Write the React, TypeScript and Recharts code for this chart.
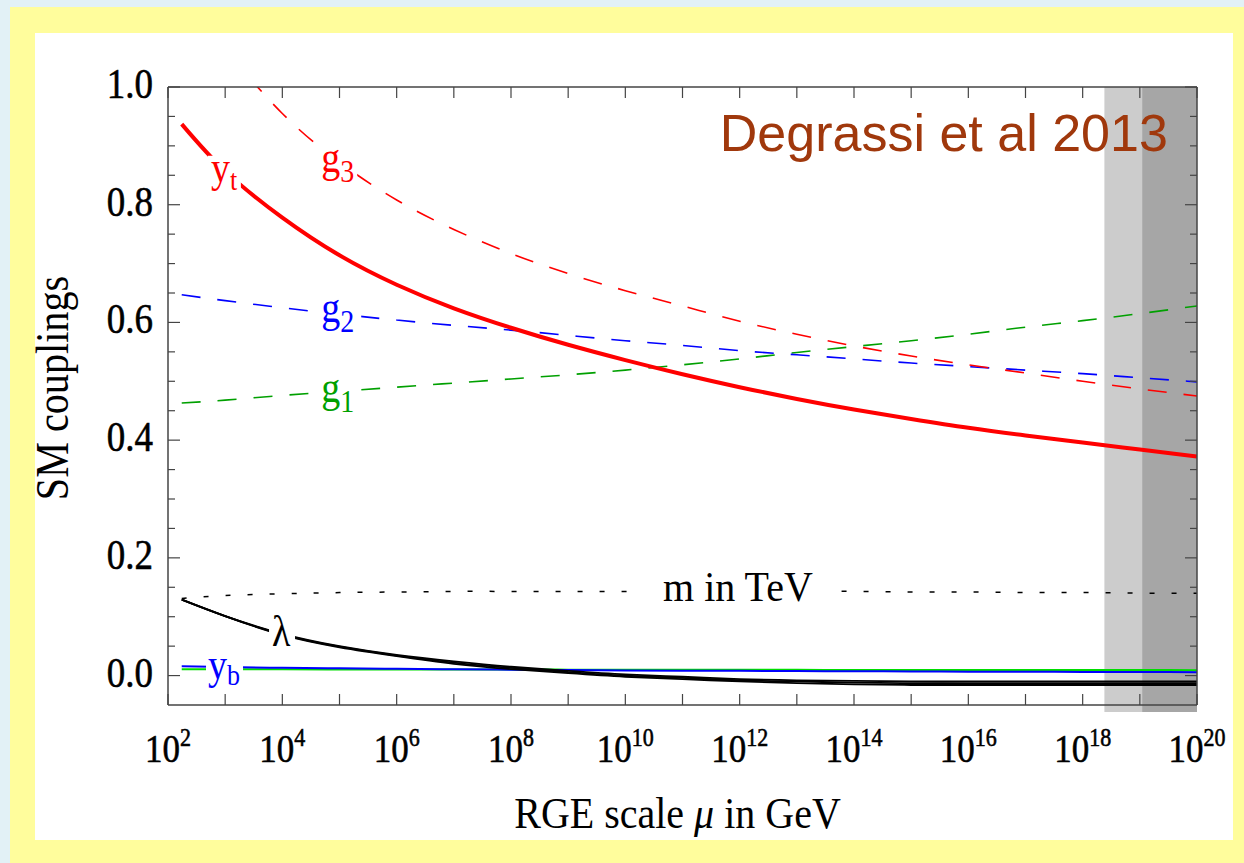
import { ComposedChart, Line, XAxis, YAxis, ReferenceArea, ReferenceDot } from "recharts";

// log10(mu / GeV) sample points
const LOG_MU = [2.24, 3, 4, 5, 6, 7, 8, 9, 10, 11, 12, 13, 14, 15, 16, 17, 18, 19, 20];

const YT = [0.937, 0.857, 0.778, 0.714, 0.664, 0.624, 0.591, 0.562, 0.536, 0.512, 0.49, 0.47, 0.452, 0.436, 0.421, 0.408, 0.396, 0.384, 0.372];
const G3 = [1.16, 1.065, 0.955, 0.872, 0.808, 0.758, 0.717, 0.683, 0.654, 0.628, 0.602, 0.58, 0.56, 0.543, 0.528, 0.514, 0.5, 0.487, 0.475];
const G2 = [0.647, 0.637, 0.625, 0.614, 0.604, 0.595, 0.587, 0.578, 0.569, 0.561, 0.552, 0.545, 0.538, 0.531, 0.525, 0.519, 0.513, 0.506, 0.499];
const G1 = [0.463, 0.468, 0.476, 0.483, 0.49, 0.497, 0.504, 0.511, 0.519, 0.528, 0.538, 0.549, 0.559, 0.569, 0.58, 0.592, 0.603, 0.615, 0.628];
const LAMBDA = [0.129, 0.101, 0.07, 0.049, 0.034, 0.022, 0.013, 0.006, 0.0, -0.004, -0.008, -0.01, -0.012, -0.013, -0.013, -0.013, -0.013, -0.013, -0.013];
const LAMBDA_HI = [0.129, 0.101, 0.071, 0.05, 0.035, 0.024, 0.015, 0.008, 0.002, -0.002, -0.006, -0.008, -0.009, -0.01, -0.01, -0.01, -0.01, -0.01, -0.01];
const LAMBDA_LO = [0.129, 0.101, 0.069, 0.048, 0.033, 0.02, 0.011, 0.004, -0.002, -0.006, -0.01, -0.013, -0.015, -0.016, -0.016, -0.016, -0.016, -0.016, -0.016];
const YB = [0.0158, 0.0145, 0.0132, 0.0123, 0.0115, 0.0107, 0.01, 0.0094, 0.0088, 0.0084, 0.008, 0.0076, 0.0073, 0.007, 0.0067, 0.0064, 0.0062, 0.006, 0.0058];
const GREEN_FLAT = [0.0108, 0.0107, 0.0106, 0.0105, 0.0104, 0.0103, 0.0102, 0.0101, 0.01, 0.0099, 0.0098, 0.0097, 0.0096, 0.0095, 0.0094, 0.0094, 0.0093, 0.0093, 0.0092];
const M_TEV = [0.131, 0.136, 0.139, 0.141, 0.142, 0.143, 0.143, 0.143, 0.143, 0.143, 0.143, 0.143, 0.143, 0.142, 0.142, 0.141, 0.141, 0.14, 0.14];

const X_TICKS = [2, 3, 4, 5, 6, 7, 8, 9, 10, 11, 12, 13, 14, 15, 16, 17, 18, 19, 20];
const X_LABELED = [2, 4, 6, 8, 10, 12, 14, 16, 18, 20];
const Y_TICKS = [0, 0.05, 0.1, 0.15, 0.2, 0.25, 0.3, 0.35, 0.4, 0.45, 0.5, 0.55, 0.6, 0.65, 0.7, 0.75, 0.8, 0.85, 0.9, 0.95, 1.0];
const Y_LABELED = [0, 0.2, 0.4, 0.6, 0.8, 1.0];
const Y_LABEL_TEXT = ["0.0", "0.2", "0.4", "0.6", "0.8", "1.0"];

// reduced Planck mass .. Planck mass .. cutoff
const BAND_EDGES = [18.38, 19.04, 20];

const data = LOG_MU.map((x, i) => ({
  x,
  yt: YT[i],
  g3: G3[i],
  g2: G2[i],
  g1: G1[i],
  lambda: LAMBDA[i],
  lambdaHi: LAMBDA_HI[i],
  lambdaLo: LAMBDA_LO[i],
  yb: YB[i],
  flat: GREEN_FLAT[i],
  m: M_TEV[i],
}));

const SERIF = "'Liberation Serif', 'Times New Roman', serif";
const SANS = "'Liberation Sans', Arial, sans-serif";
const FRAME = "#444";
// the original type is a bit taller than Times, stretch it vertically
const TALL = 1.14;

const isLabeledY = (v: number) => Y_LABELED.some((t) => Math.abs(t - v) < 1e-6);

function BottomTick(props: any) {
  const { x, y, payload } = props;
  const v = payload.value;
  return (
    <g>
      <line x1={x} y1={y} x2={x} y2={y - 11} stroke={FRAME} strokeWidth={1.2} />
      {X_LABELED.includes(v) && (
        <g transform={`translate(${x}, ${y + 57}) scale(1, ${TALL})`}>
          <text x={0} y={0} textAnchor="middle" fontFamily={SERIF} fontSize={35} fill="#000" stroke="#000" strokeWidth={0.5}>
            10
            <tspan dy={-14} fontSize={22}>
              {v}
            </tspan>
          </text>
        </g>
      )}
    </g>
  );
}

function TopTick(props: any) {
  const { x, y } = props;
  return <line x1={x} y1={y} x2={x} y2={y + 11} stroke={FRAME} strokeWidth={1.2} />;
}

function LeftTick(props: any) {
  const { x, y, payload } = props;
  const v = payload.value;
  const major = isLabeledY(v);
  const idx = Y_LABELED.findIndex((t) => Math.abs(t - v) < 1e-6);
  return (
    <g>
      <line x1={x} y1={y} x2={x + (major ? 12 : 7)} y2={y} stroke={FRAME} strokeWidth={1.2} />
      {major && (
        <g transform={`translate(${x - 15}, ${y + 11}) scale(1, ${TALL})`}>
          <text x={0} y={0} textAnchor="end" fontFamily={SERIF} fontSize={37} fill="#000" stroke="#000" strokeWidth={0.5}>
            {Y_LABEL_TEXT[idx]}
          </text>
        </g>
      )}
    </g>
  );
}

function RightTick(props: any) {
  const { x, y, payload } = props;
  const major = isLabeledY(payload.value);
  return <line x1={x} y1={y} x2={x - (major ? 12 : 7)} y2={y} stroke={FRAME} strokeWidth={1.2} />;
}

function curveTag(main: string, sub: string, color: string, box: number[], subDy: number, subSize: number) {
  return (p: any) => (
    <g>
      <rect x={p.cx + box[0]} y={p.cy + box[1]} width={box[2]} height={box[3]} fill="#fff" />
      <g transform={`translate(${p.cx}, ${p.cy}) scale(1, ${TALL})`}>
        <text x={0} y={0} fill={color} fontFamily={SERIF} fontSize={38}>
          {main}
          {sub && (
            <tspan dy={subDy} fontSize={subSize}>
              {sub}
            </tspan>
          )}
        </text>
      </g>
    </g>
  );
}

const mTag = (p: any) => (
  <g>
    <rect x={p.cx - 22} y={p.cy - 34} width={194} height={44} fill="#fff" />
    <g transform={`translate(${p.cx}, ${p.cy}) scale(1, 1.08)`}>
      <text x={0} y={0} fill="#000" fontFamily={SERIF} fontSize={40}>
        m in TeV
      </text>
    </g>
  </g>
);

const titleTag = (p: any) => (
  <text x={p.cx} y={p.cy} textAnchor="end" fill="#a0380c" fontFamily={SANS} fontSize={52}>
    Degrassi et al 2013
  </text>
);

const xTitle = (props: any) => {
  const vb = props.viewBox;
  return (
    <g transform={`translate(${vb.x + vb.width / 2 - 5}, ${vb.y + 123}) scale(1, 1.1)`}>
      <text x={0} y={0} textAnchor="middle" fontFamily={SERIF} fontSize={40} fill="#000">
        RGE scale <tspan fontStyle="italic">μ</tspan> in GeV
      </text>
    </g>
  );
};

const yTitle = (props: any) => {
  const vb = props.viewBox;
  const cx = vb.x - 40;
  const cy = vb.y + vb.height / 2 - 8;
  return (
    <g transform={`translate(${cx}, ${cy}) rotate(-90) scale(0.98, 1.12)`}>
      <text x={0} y={0} textAnchor="middle" fontFamily={SERIF} fontSize={41} fill="#000">
        SM couplings
      </text>
    </g>
  );
};

const AX = { xAxisId: "b", yAxisId: "l" };

export default function App() {
  return (
    <div style={{ position: "fixed", left: 0, top: 0, width: 1244, height: 863, background: "#e2f1f6", overflow: "hidden" }}>
      <div style={{ position: "absolute", left: 10, top: 7, right: 0, bottom: 0, background: "#fffd9c" }} />
      <div style={{ position: "absolute", left: 35, top: 33, width: 1198, height: 807, background: "#ffffff" }} />
      <div style={{ position: "absolute", left: 0, top: 0 }}>
        <ComposedChart width={1244} height={863} data={data} margin={{ top: 77, right: 37, bottom: 98, left: 108 }}>
          <ReferenceArea {...AX} x1={BAND_EDGES[0]} x2={BAND_EDGES[1]} y1={-0.062} y2={1.0} fill="#cccccc" fillOpacity={1} ifOverflow="visible" zIndex={-10} />
          <ReferenceArea {...AX} x1={BAND_EDGES[1]} x2={BAND_EDGES[2]} y1={-0.062} y2={1.0} fill="#a6a6a6" fillOpacity={1} ifOverflow="visible" zIndex={-10} />

          <XAxis
            xAxisId="b"
            type="number"
            dataKey="x"
            domain={[2, 20]}
            allowDataOverflow
            ticks={X_TICKS}
            interval={0}
            height={60}
            tickSize={0}
            tickMargin={0}
            tick={BottomTick}
            axisLine={{ stroke: FRAME, strokeWidth: 1.5 }}
            label={xTitle}
          />
          <XAxis
            xAxisId="t"
            orientation="top"
            type="number"
            dataKey="x"
            domain={[2, 20]}
            allowDataOverflow
            ticks={X_TICKS}
            interval={0}
            height={10}
            tickSize={0}
            tickMargin={0}
            tick={TopTick}
            axisLine={{ stroke: FRAME, strokeWidth: 1.5 }}
          />
          <YAxis
            yAxisId="l"
            type="number"
            domain={[-0.05, 1]}
            allowDataOverflow
            ticks={Y_TICKS}
            interval={0}
            width={60}
            tickSize={0}
            tickMargin={0}
            tick={LeftTick}
            axisLine={{ stroke: FRAME, strokeWidth: 1.5 }}
            label={yTitle}
          />
          <YAxis
            yAxisId="r"
            orientation="right"
            type="number"
            domain={[-0.05, 1]}
            allowDataOverflow
            ticks={Y_TICKS}
            interval={0}
            width={10}
            tickSize={0}
            tickMargin={0}
            tick={RightTick}
            axisLine={{ stroke: FRAME, strokeWidth: 1.5 }}
          />

          <Line {...AX} dataKey="m" type="natural" stroke="#000" strokeWidth={1.5} strokeDasharray="5 17" dot={false} activeDot={false} isAnimationActive={false} />
          <Line {...AX} dataKey="flat" type="natural" stroke="#00dd00" strokeWidth={2} dot={false} activeDot={false} isAnimationActive={false} />
          <Line {...AX} dataKey="yb" type="natural" stroke="#0000ff" strokeWidth={2} dot={false} activeDot={false} isAnimationActive={false} />
          <Line {...AX} dataKey="lambdaHi" type="natural" stroke="#000" strokeWidth={1.8} dot={false} activeDot={false} isAnimationActive={false} />
          <Line {...AX} dataKey="lambda" type="natural" stroke="#000" strokeWidth={1.8} dot={false} activeDot={false} isAnimationActive={false} />
          <Line {...AX} dataKey="lambdaLo" type="natural" stroke="#000" strokeWidth={1.8} dot={false} activeDot={false} isAnimationActive={false} />
          <Line {...AX} dataKey="g1" type="natural" stroke="#00a000" strokeWidth={1.6} strokeDasharray="19 17" dot={false} activeDot={false} isAnimationActive={false} />
          <Line {...AX} dataKey="g2" type="natural" stroke="#0000ff" strokeWidth={1.6} strokeDasharray="19 17" dot={false} activeDot={false} isAnimationActive={false} />
          <Line {...AX} dataKey="g3" type="natural" stroke="#ff0000" strokeWidth={1.6} strokeDasharray="19 17" dot={false} activeDot={false} isAnimationActive={false} />
          <Line {...AX} dataKey="yt" type="natural" stroke="#ff0000" strokeWidth={4} dot={false} activeDot={false} isAnimationActive={false} />

          <ReferenceDot {...AX} x={2.75} y={0.839} r={0} ifOverflow="visible" shape={curveTag("y", "t", "#ff0000", [-3, -26, 33, 42], 7, 26)} />
          <ReferenceDot {...AX} x={4.68} y={0.856} r={0} ifOverflow="visible" shape={curveTag("g", "3", "#ff0000", [-4, -26, 40, 40], 9, 28)} />
          <ReferenceDot {...AX} x={4.68} y={0.601} r={0} ifOverflow="visible" shape={curveTag("g", "2", "#0000ff", [-6, -26, 46, 40], 9, 28)} />
          <ReferenceDot {...AX} x={4.68} y={0.465} r={0} ifOverflow="visible" shape={curveTag("g", "1", "#00a000", [-6, -26, 46, 40], 9, 28)} />
          <ReferenceDot {...AX} x={3.82} y={0.051} r={0} ifOverflow="visible" shape={curveTag("λ", "", "#000", [-3, -32, 26, 38], 0, 0)} />
          <ReferenceDot {...AX} x={2.7} y={-0.005} r={0} ifOverflow="visible" shape={curveTag("y", "b", "#0000ff", [-2, -22, 37, 32], 6, 26)} />
          <ReferenceDot {...AX} x={10.66} y={0.126} r={0} ifOverflow="visible" shape={mTag} />
          <ReferenceDot {...AX} x={19.49} y={0.891} r={0} ifOverflow="visible" shape={titleTag} />
        </ComposedChart>
      </div>
    </div>
  );
}
